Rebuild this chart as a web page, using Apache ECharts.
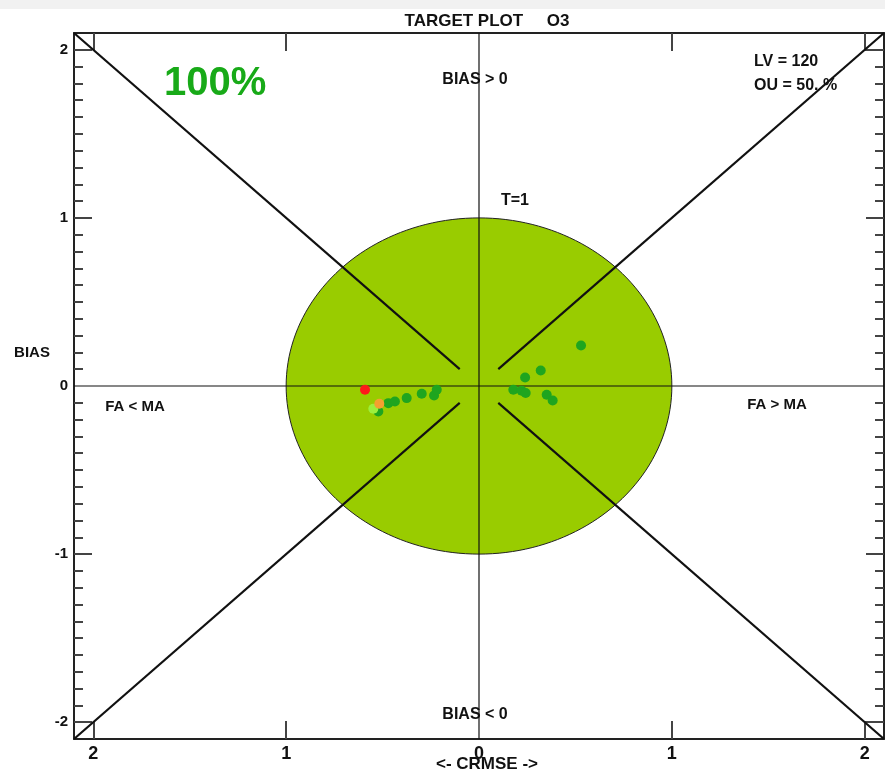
<!DOCTYPE html>
<html>
<head>
<meta charset="utf-8">
<script src="https://cdn.jsdelivr.net/npm/echarts@6/dist/echarts.min.js"></script>
<style>
html,body{margin:0;padding:0;background:#fff;}
#chart{width:885px;height:773px;}
</style>
</head>
<body>
<div id="chart"></div>
<script>
// ---- data ----
const axisRange = [-2.1, 2.1];
const xTickLabels = [-2, -1, 0, 1, 2];
const yTickLabels = [-2, -1, 0, 1, 2];
const majorTicks = [-2, -1, 1, 2];
const minorTicks = [-2.0,-1.9,-1.8,-1.7,-1.6,-1.5,-1.4,-1.3,-1.2,-1.1,-1.0,-0.9,-0.8,-0.7,-0.6,-0.5,-0.4,-0.3,-0.2,-0.1,
                    0.1,0.2,0.3,0.4,0.5,0.6,0.7,0.8,0.9,1.0,1.1,1.2,1.3,1.4,1.5,1.6,1.7,1.8,1.9,2.0];
const targetCircle = [[0, 0, 1]]; // centre x, centre y, radius (T=1)
const zeroLineH = [[-2.1, 0], [2.1, 0]];
const zeroLineV = [[0, -2.1], [0, 2.1]];
const diagTL = [[-2.1, 2.1], [-0.1, 0.1]];
const diagTR = [[2.1, 2.1], [0.1, 0.1]];
const diagBL = [[-2.1, -2.1], [-0.1, -0.1]];
const diagBR = [[2.1, -2.1], [0.1, -0.1]];
const greenPoints = [
  [-0.522,-0.151],[-0.470,-0.102],[-0.436,-0.092],[-0.375,-0.072],[-0.297,-0.046],
  [-0.233,-0.056],[-0.219,-0.022],
  [0.529,0.241],[0.320,0.092],[0.239,0.051],[0.178,-0.022],[0.221,-0.028],
  [0.242,-0.042],[0.351,-0.052],[0.382,-0.086]
];
const redPoints = [[-0.591,-0.022]];
const orangePoints = [[-0.517,-0.106]];
const limePoints = [[-0.548,-0.135]];
const titleText = 'TARGET PLOT     O3';

// ---- chart ----
const chart = echarts.init(document.getElementById('chart'), null, {renderer:'canvas'});
const FONT = 'Liberation Sans, Arial, sans-serif';
const NARROW = 'Liberation Sans Narrow, Liberation Sans, Arial, sans-serif';
const frameLine = {show:true, onZero:false, lineStyle:{color:'#222', width:2}};
const noLine = {show:false, onZero:false};

function xAx(pos, showLabel){
  return {
    type:'value', position:pos, min:axisRange[0], max:axisRange[1],
    axisLine: frameLine,
    splitLine:{show:false},
    axisTick:{show:true, inside:true, length:18, customValues:majorTicks, lineStyle:{color:'#444', width:2}},
    axisLabel:{show:showLabel, customValues:xTickLabels, margin:6,
      formatter:v=>String(Math.abs(Math.round(v))),
      fontFamily:NARROW, fontWeight:'bold', fontSize:18, color:'#111'}
  };
}
function yAx(pos, major, showLabel){
  return {
    type:'value', position:pos, min:axisRange[0], max:axisRange[1],
    axisLine: major ? frameLine : noLine,
    splitLine:{show:false},
    axisTick:{show:true, inside:true, length: major ? 18 : 9,
      customValues: major ? majorTicks : minorTicks, lineStyle:{color:'#444', width:2}},
    axisLabel:{show:showLabel, customValues:yTickLabels, margin:6,
      formatter:v=>String(Math.round(v)),
      fontFamily:FONT, fontWeight:'bold', fontSize:15, color:'#111'}
  };
}

function lineSeries(data, width, z){
  return {type:'line', data:data, xAxisIndex:0, yAxisIndex:0, symbol:'none', z:z,
    lineStyle:{color:'#111', width:width}, silent:true, animation:false};
}
function scatterSeries(data, color, z){
  return {type:'scatter', data:data, xAxisIndex:0, yAxisIndex:0, symbol:'circle', symbolSize:10, z:z,
    itemStyle:{color:color, opacity:1}, silent:true, animation:false};
}

const option = {
  animation:false,
  backgroundColor:'#ffffff',
  title:{text:titleText, left:482, top:8, textAlign:'center',
    textStyle:{fontFamily:FONT, fontSize:17, fontWeight:'bold', color:'#111'}},
  grid:{left:74, top:33, width:810, height:706, containLabel:false},
  xAxis:[xAx('bottom', true), xAx('top', false)],
  yAxis:[yAx('left', true, true), yAx('left', false, false), yAx('right', true, false), yAx('right', false, false)],
  graphic:[
    {type:'rect', left:0, top:0, shape:{width:885, height:9}, style:{fill:'#f1f1f1'}, silent:true, z:-1},
    {type:'text', left:164, top:64, style:{text:'100%', fill:'#18aa18', font:'bold 40px ' + FONT}},
    {type:'text', x:475, y:80, style:{text:'BIAS > 0', fill:'#111', font:'bold 16px ' + FONT, align:'center', verticalAlign:'middle'}},
    {type:'text', x:515, y:201, style:{text:'T=1', fill:'#111', font:'bold 16px ' + FONT, align:'center', verticalAlign:'middle'}},
    {type:'text', x:754, y:62, style:{text:'LV = 120', fill:'#111', font:'bold 16px ' + FONT, align:'left', verticalAlign:'middle'}},
    {type:'text', x:754, y:86, style:{text:'OU = 50. %', fill:'#111', font:'bold 16px ' + FONT, align:'left', verticalAlign:'middle'}},
    {type:'text', x:32, y:353, style:{text:'BIAS', fill:'#111', font:'bold 15px ' + FONT, align:'center', verticalAlign:'middle'}},
    {type:'text', x:135, y:407, style:{text:'FA < MA', fill:'#111', font:'bold 15px ' + FONT, align:'center', verticalAlign:'middle'}},
    {type:'text', x:777, y:405, style:{text:'FA > MA', fill:'#111', font:'bold 15px ' + FONT, align:'center', verticalAlign:'middle'}},
    {type:'text', x:475, y:715, style:{text:'BIAS < 0', fill:'#111', font:'bold 16px ' + FONT, align:'center', verticalAlign:'middle'}},
    {type:'text', x:487, y:764, style:{text:'<- CRMSE ->', fill:'#111', font:'bold 17px ' + NARROW, align:'center', verticalAlign:'middle'}}
  ],
  series:[
    {
      type:'custom', data:targetCircle, xAxisIndex:0, yAxisIndex:0, z:1, silent:true, animation:false,
      renderItem:function(params, api){
        const cx = api.value(0), cy = api.value(1), r = api.value(2);
        const pts = [];
        const n = 180;
        for (let i = 0; i < n; i++) {
          const a = 2 * Math.PI * i / n;
          pts.push(api.coord([cx + r * Math.cos(a), cy + r * Math.sin(a)]));
        }
        return {type:'polygon', shape:{points:pts},
          style:{fill:'#99cc00', stroke:'#222', lineWidth:1}};
      }
    },
    lineSeries(zeroLineH, 1.2, 2),
    lineSeries(zeroLineV, 1.2, 2),
    lineSeries(diagTL, 2.2, 3),
    lineSeries(diagTR, 2.2, 3),
    lineSeries(diagBL, 2.2, 3),
    lineSeries(diagBR, 2.2, 3),
    scatterSeries(redPoints, '#ff1a1a', 4),
    scatterSeries(greenPoints, '#1fa51f', 5),
    scatterSeries(limePoints, '#9cf03c', 6),
    scatterSeries(orangePoints, '#f4a030', 7)
  ]
};
chart.setOption(option);
</script>
</body>
</html>
